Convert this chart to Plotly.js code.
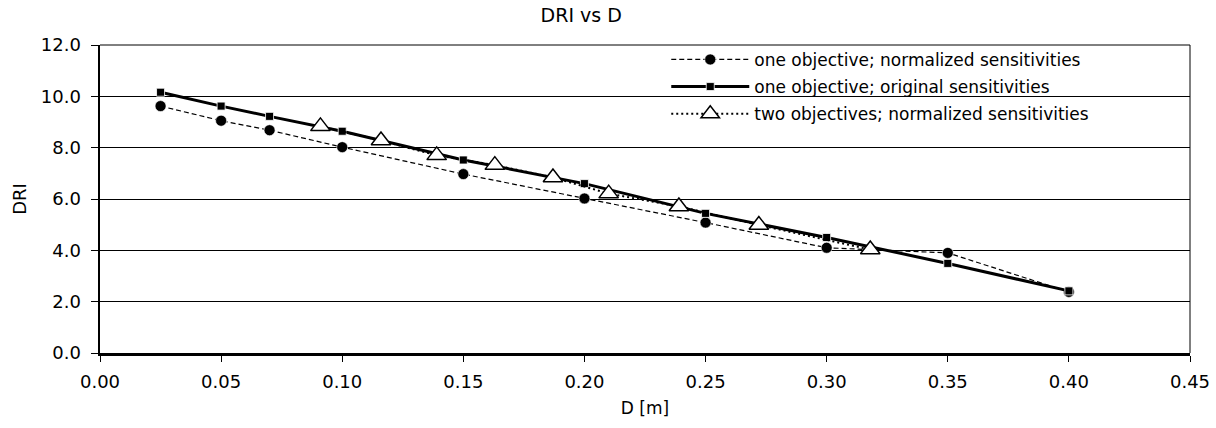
<!DOCTYPE html>
<html><head><meta charset="utf-8">
<script src="https://cdn.plot.ly/plotly-3.0.1.min.js"></script>
<style>html,body{margin:0;padding:0;background:#fff}#chart{width:1216px;height:428px}</style>
</head><body><div id="chart"></div>
<script>
// Data
var D_one = [0.025, 0.05, 0.07, 0.10, 0.15, 0.20, 0.25, 0.30, 0.35, 0.40];
var DRI_oneNormalized = [9.62, 9.05, 8.68, 8.02, 6.97, 6.02, 5.08, 4.10, 3.90, 2.38];
var DRI_oneOriginal = [10.16, 9.62, 9.22, 8.64, 7.52, 6.60, 5.44, 4.50, 3.49, 2.42];
var D_two = [0.091, 0.116, 0.139, 0.163, 0.187, 0.210, 0.239, 0.272, 0.318];
var DRI_twoNormalized = [8.83, 8.28, 7.70, 7.32, 6.84, 6.21, 5.71, 4.99, 4.03];
var seriesNames = ['one objective; normalized sensitivities',
                   'one objective; original sensitivities',
                   'two objectives; normalized sensitivities'];

var FONT = 'DejaVu Sans, Liberation Sans, Arial, sans-serif';

var traces = [
  {x: D_one, y: DRI_oneNormalized, name: seriesNames[0], type: 'scatter', mode: 'lines+markers',
   legendgroup: 'a',
   line: {color: '#000', width: 1.2, dash: '5px,3px'},
   marker: {symbol: 'circle', size: 11, color: '#000', line: {color: '#fff', width: 0.6}}},
  {x: D_one, y: DRI_oneOriginal, name: seriesNames[1], type: 'scatter', mode: 'lines+markers',
   legendgroup: 'b',
   line: {color: '#000', width: 3},
   marker: {symbol: 'square', size: 8, color: '#000', line: {color: '#fff', width: 0.8}}},
  {x: D_two, y: DRI_twoNormalized, name: seriesNames[2], type: 'scatter', mode: 'lines+markers',
   legendgroup: 'c',
   line: {color: '#000', width: 2, dash: '2px,3px'},
   marker: {symbol: 'triangle-up', size: 17, color: '#fff', line: {color: '#000', width: 1.5}}}
];

var layout = {
  width: 1216, height: 428,
  paper_bgcolor: '#fff', plot_bgcolor: '#fff',
  margin: {l: 100, r: 26, t: 45, b: 75},
  font: {family: FONT, color: '#000', size: 16},
  title: {text: 'DRI vs D', font: {family: FONT, size: 19, color: '#000'},
          x: 0.478, xref: 'container', xanchor: 'center', y: 1 - 15/428, yref: 'container', yanchor: 'middle'},
  showlegend: true,
  legend: {x: 0.5195, xanchor: 'left', y: 1.01, yanchor: 'top', bgcolor: 'rgba(0,0,0,0)',
           borderwidth: 0, itemwidth: 78, traceorder: 'grouped', tracegroupgap: 2,
           font: {family: FONT, size: 17, color: '#000'}},
  xaxis: {range: [0, 0.45], tick0: 0, dtick: 0.05, tickformat: '.2f',
          showline: true, linecolor: '#000', linewidth: 2.5,
          ticks: 'outside', ticklen: 6, tickwidth: 1, tickcolor: '#000',
          showgrid: false, zeroline: false, ticklabelstandoff: 5,
          tickfont: {family: FONT, size: 18, color: '#000'},
          title: {text: 'D [m]', font: {family: FONT, size: 17, color: '#000'}, standoff: 11}},
  yaxis: {range: [0, 12], tick0: 0, dtick: 2, tickformat: '.1f',
          showline: true, linecolor: '#000', linewidth: 2.5,
          ticks: 'outside', ticklen: 7, tickwidth: 1, tickcolor: '#000',
          showgrid: true, gridcolor: '#000', gridwidth: 1, zeroline: false,
          ticklabelstandoff: 6,
          tickfont: {family: FONT, size: 18, color: '#000'},
          title: {text: 'DRI', font: {family: FONT, size: 18, color: '#000'}, standoff: 10}},
  shapes: [
    {type: 'rect', xref: 'paper', yref: 'paper', x0: 0.445, x1: 0.9725, y0: 0.74, y1: 0.99,
     fillcolor: '#fff', line: {width: 0}, layer: 'between'},
    {type: 'line', xref: 'paper', yref: 'paper', x0: 1, x1: 1, y0: 0, y1: 1,
     line: {color: '#000', width: 1}, layer: 'between'},
    {type: 'line', xref: 'paper', yref: 'paper', x0: 0, x1: 1, y0: 1, y1: 1,
     line: {color: '#000', width: 1}, layer: 'between'}
  ]
};

Plotly.newPlot('chart', traces, layout, {displayModeBar: false, staticPlot: true});
</script></body></html>
